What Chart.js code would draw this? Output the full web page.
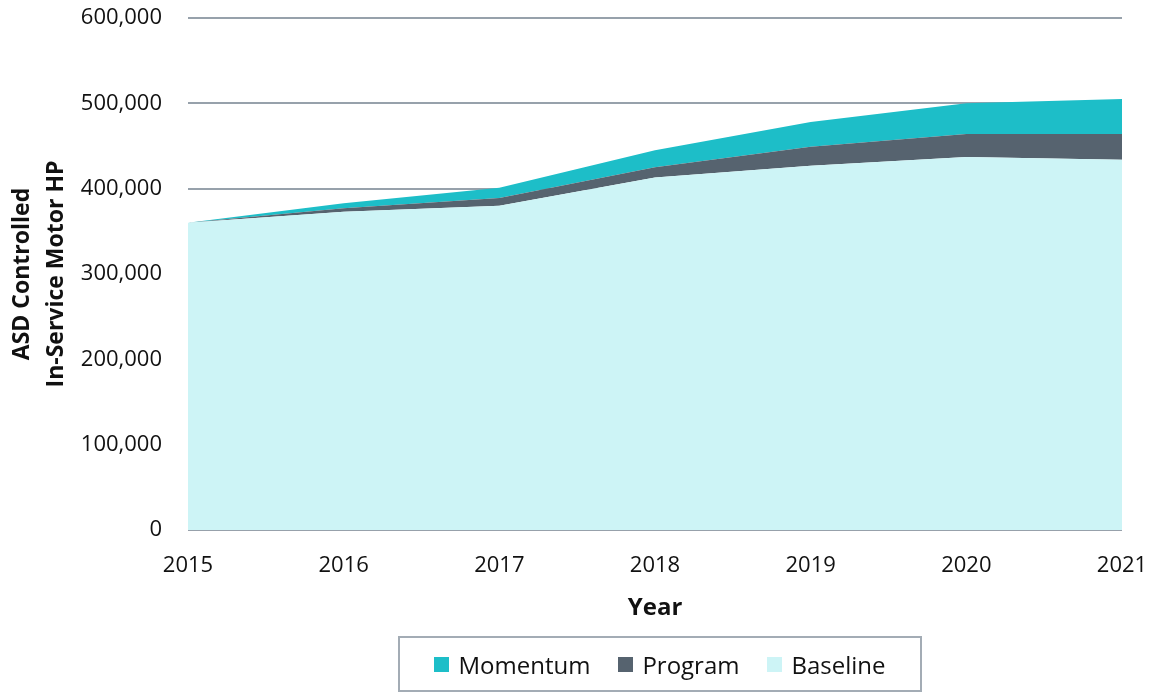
<!DOCTYPE html>
<html>
<head>
<meta charset="utf-8">
<script src="https://cdn.jsdelivr.net/npm/chart.js@4.4.0/dist/chart.umd.min.js"></script>
<style>
  html, body { margin: 0; padding: 0; background: #fff; }
  #wrap { position: relative; width: 1154px; height: 692px; }
  #legend {
    position: absolute; left: 398px; top: 636px; width: 520px; height: 52px;
    border: 2px solid #a3acb5;
    display: flex; align-items: center; justify-content: center;
    font-family: "Open Sans", sans-serif; font-size: 24px; color: #111;
  }
  .item { display: flex; align-items: center; margin: 0 14px; }
  .sw { width: 15px; height: 15px; margin-right: 9px; }
</style>
</head>
<body>
<div id="wrap">
  <canvas id="chart" width="1154" height="692"></canvas>
  <div id="legend"></div>
</div>
<script>
// ---- data ----
const years = ["2015","2016","2017","2018","2019","2020","2021"];
const baseline = [360000, 373000, 380000, 413000, 427000, 437000, 434000];
const program  = [0, 4000, 9000, 12000, 22000, 27000, 30000];
const momentum = [0, 6000, 12000, 20000, 29000, 36000, 41000];
const yTicks = [0, 100000, 200000, 300000, 400000, 500000, 600000];

const colors = { Momentum: "#1dbec8", Program: "#56636f", Baseline: "#cdf4f6" };
const FONT = "'Open Sans', sans-serif";

// build legend (top series first, like the original)
const legend = document.getElementById("legend");
["Momentum", "Program", "Baseline"].forEach(name => {
  const it = document.createElement("div");
  it.className = "item";
  it.innerHTML = `<span class="sw" style="background:${colors[name]}"></span>${name}`;
  legend.appendChild(it);
});

const area = (label, data, fill) => ({
  label, data, fill,
  backgroundColor: colors[label],
  borderWidth: 0,
  pointRadius: 0,
  tension: 0
});

new Chart(document.getElementById("chart"), {
  type: "line",
  data: {
    labels: years,
    datasets: [
      area("Baseline", baseline, "origin"),
      area("Program", program, "-1"),
      area("Momentum", momentum, "-1")
    ]
  },
  options: {
    responsive: false,
    animation: false,
    layout: { padding: { left: 6, right: 32, top: 18, bottom: 69 } },
    plugins: { legend: { display: false }, tooltip: { enabled: false } },
    scales: {
      x: {
        offset: false,
        afterFit: s => { s.height = 93; s.paddingLeft = 0; s.paddingRight = 0; },
        grid: { display: false },
        border: { display: false },
        ticks: { color: "#111", font: { family: FONT, size: 22 }, padding: 15, maxRotation: 0 },
        title: { display: true, text: "Year", color: "#111",
                 font: { family: FONT, size: 24, weight: "bold" }, padding: 0 }
      },
      y: {
        stacked: true,
        min: 0, max: 600000,
        afterBuildTicks: s => { s.ticks = yTicks.map(v => ({ value: v })); },
        afterFit: s => { s.width = 182; s.paddingTop = 0; s.paddingBottom = 0; },
        grid: { color: "#97a1ab", lineWidth: 2, drawTicks: false },
        border: { display: false },
        ticks: { color: "#111", font: { family: FONT, size: 22 }, padding: 26,
                 callback: v => v.toLocaleString("en-US") },
        title: { display: true, text: ["ASD Controlled", "In-Service Motor HP"], color: "#111",
                 font: { family: FONT, size: 23, weight: "bold", lineHeight: 1.45 }, padding: 0 }
      }
    }
  }
});
</script>
</body>
</html>
